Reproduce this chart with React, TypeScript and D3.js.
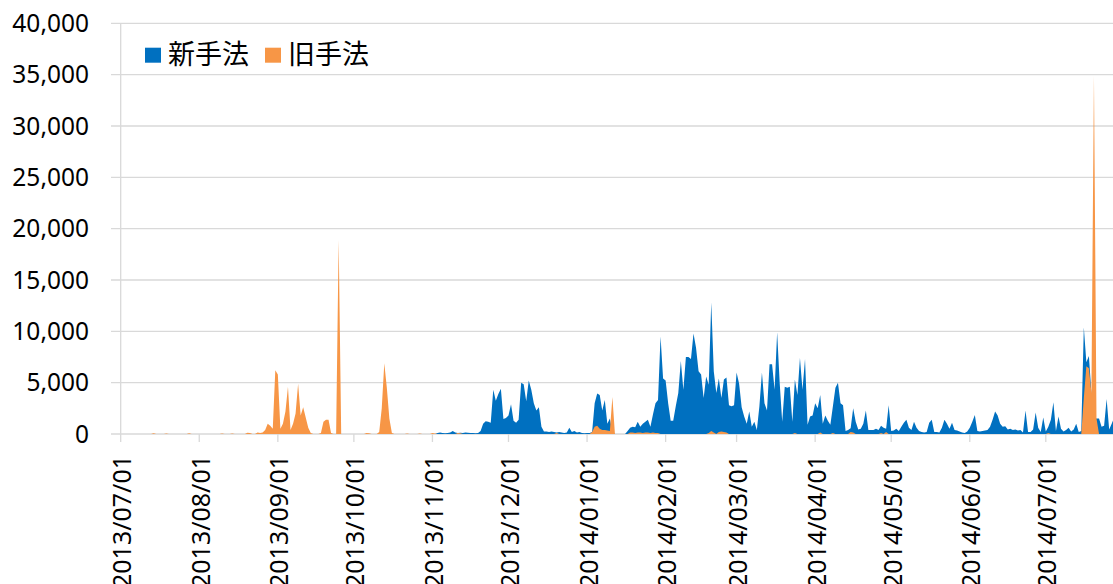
import React from "react";
import * as d3 from "d3";

// Daily counts from 2013/07/01 onward
const startDate = Date.UTC(2013, 6, 1);
const seriesNames = ["新手法", "旧手法"];
const seriesColors = ["#0070C0", "#F79646"];
const yTicks = [0, 5000, 10000, 15000, 20000, 25000, 30000, 35000, 40000];

// 新手法 (one value per day)
const newMethod = [
  0, 0, 0, 0, 0, 0, 0, 0, 0, 0,
  0, 0, 0, 0, 0, 0, 0, 0, 0, 0,
  0, 0, 0, 0, 0, 0, 0, 0, 0, 0,
  0, 0, 0, 0, 0, 0, 0, 0, 0, 0,
  0, 0, 0, 0, 0, 0, 0, 0, 0, 0,
  0, 0, 0, 0, 0, 0, 0, 0, 0, 0,
  0, 0, 0, 0, 0, 0, 0, 0, 0, 0,
  0, 0, 0, 0, 0, 0, 0, 0, 0, 0,
  0, 0, 0, 0, 0, 0, 0, 0, 0, 0,
  0, 0, 0, 0, 0, 0, 0, 0, 0, 0,
  0, 0, 0, 0, 0, 0, 0, 0, 0, 0,
  0, 0, 0, 0, 0, 0, 0, 0, 0, 0,
  0, 0, 0, 0, 0, 100, 150, 100, 80, 100,
  150, 300, 150, 100, 120, 100, 150, 120, 100, 100,
  80, 100, 300, 1000, 1250, 1200, 1100, 4300, 3250, 3900,
  4400, 1450, 1550, 1800, 2900, 1300, 1100, 1400, 5000, 4850,
  3200, 5200, 4300, 3000, 2300, 2600, 700, 250, 250, 200,
  250, 200, 150, 200, 150, 100, 150, 600, 200, 300,
  150, 200, 100, 80, 100, 100, 200, 3000, 3950, 3800,
  2300, 3300, 1000, 1500, 200, 0, 0, 0, 0, 0,
  300, 600, 700, 650, 1200, 700, 1000, 1200, 1400, 700,
  1900, 3000, 3300, 9500, 5400, 5200, 3000, 1300, 1300, 2700,
  4000, 7100, 4300, 7500, 7500, 7300, 9800, 8400, 6100, 5800,
  3500, 5600, 4800, 12800, 6100, 4000, 5400, 3500, 5300, 5500,
  2800, 2700, 2800, 6000, 4900, 2600, 1700, 1000, 2200, 700,
  1200, 400, 2700, 6000, 3000, 2300, 6800, 6800, 4300, 9900,
  5000, 1200, 4600, 4500, 4600, 1200, 5300, 3800, 7400, 4300,
  7300, 900, 1700, 1800, 3000, 2500, 3800, 1000, 1800, 1300,
  900, 2700, 4500, 5000, 3000, 2800, 300, 400, 550, 2500,
  1200, 450, 500, 1000, 2300, 400, 400, 400, 500, 400,
  800, 600, 500, 2800, 300, 350, 500, 300, 700, 1100,
  1400, 600, 400, 1200, 600, 300, 200, 150, 200, 1100,
  1400, 200, 200, 150, 600, 1400, 1000, 500, 1100, 400,
  350, 250, 150, 100, 250, 600, 1200, 1850, 300, 250,
  300, 350, 400, 700, 1400, 2200, 1800, 1000, 700, 750,
  450, 500, 400, 450, 350, 400, 150, 2300, 200, 200,
  450, 2100, 600, 200, 1600, 250, 700, 1400, 3100, 300,
  1700, 500, 250, 400, 600, 250, 450, 1000, 200, 300,
  10400, 7000, 7600, 4000, 1500, 1500, 1500, 700, 800, 3400,
  450, 1000, 1600,
];

// 旧手法 (one value per day)
const oldMethod = [
  0, 0, 0, 0, 0, 0, 0, 0, 0, 0,
  0, 0, 0, 80, 0, 0, 0, 0, 50, 0,
  0, 0, 0, 0, 0, 0, 0, 80, 0, 0,
  0, 0, 0, 0, 0, 0, 0, 0, 0, 0,
  60, 0, 0, 0, 50, 0, 0, 0, 0, 0,
  120, 100, 0, 0, 150, 100, 150, 400, 1000, 800,
  500, 6200, 5800, 500, 1000, 2200, 4600, 400, 1000, 2000,
  4900, 1800, 2600, 1600, 600, 100, 0, 0, 0, 100,
  1200, 1400, 1400, 100, 0, 0, 18900, 0, 0, 0,
  0, 0, 0, 0, 0, 0, 0, 100, 80, 0,
  0, 0, 200, 2500, 6900, 4500, 1500, 100, 0, 0,
  0, 0, 0, 50, 0, 0, 0, 0, 60, 0,
  0, 0, 0, 100, 50, 0, 0, 0, 0, 0,
  0, 0, 0, 100, 80, 0, 0, 0, 0, 0,
  0, 0, 0, 0, 0, 0, 0, 0, 0, 0,
  0, 0, 0, 0, 0, 0, 0, 0, 0, 0,
  0, 0, 0, 0, 0, 0, 0, 0, 0, 0,
  0, 0, 100, 0, 0, 0, 0, 0, 0, 0,
  0, 0, 0, 0, 0, 0, 200, 700, 800, 500,
  400, 400, 350, 300, 3600, 0, 0, 0, 0, 0,
  0, 150, 150, 100, 150, 150, 100, 150, 150, 100,
  150, 100, 100, 0, 0, 0, 0, 0, 0, 0,
  0, 0, 0, 0, 0, 0, 0, 0, 0, 0,
  0, 0, 100, 300, 150, 0, 200, 250, 200, 150,
  0, 0, 0, 0, 0, 0, 0, 0, 0, 0,
  0, 0, 0, 0, 0, 0, 0, 0, 0, 0,
  0, 0, 0, 0, 0, 0, 100, 0, 0, 0,
  0, 0, 0, 0, 0, 0, 150, 0, 0, 0,
  0, 100, 0, 0, 0, 0, 0, 0, 200, 150,
  0, 0, 0, 0, 0, 0, 0, 0, 0, 0,
  100, 0, 200, 0, 0, 0, 0, 0, 0, 0,
  0, 0, 0, 0, 0, 0, 0, 0, 0, 0,
  0, 0, 0, 0, 0, 0, 0, 0, 0, 0,
  0, 0, 0, 0, 0, 0, 0, 0, 0, 0,
  0, 0, 0, 0, 0, 0, 0, 0, 0, 0,
  0, 0, 0, 0, 0, 0, 0, 0, 0, 0,
  0, 0, 0, 0, 0, 0, 100, 0, 0, 0,
  0, 0, 0, 0, 0, 0, 0, 0, 0, 0,
  3500, 6600, 6400, 4000, 34900, 1500, 0, 0, 0, 0,
  0, 0, 0,
];

const W = 1113;
const H = 584;
const plotLeft = 120.7;
const plotRight = 1113;
const plotTop = 23.3;
const plotBottom = 434;
const DAY = 86400000;

const labelFont = "'Noto Sans', 'Open Sans', 'Liberation Sans', sans-serif";
const cjkFont = "'Noto Sans CJK JP', 'Noto Sans CJK SC', sans-serif";
const gridColor = "#d9d9d9";

export default function App() {
  const x = d3
    .scaleUtc()
    .domain([new Date(startDate), new Date(Date.UTC(2014, 6, 1))])
    .range([plotLeft, 1045.8]);
  const y = d3.scaleLinear().domain([0, 40000]).range([plotBottom, plotTop]);

  const dateOf = (i: number) => new Date(startDate + i * DAY);
  const area = d3
    .area<number>()
    .x((_, i) => x(dateOf(i)))
    .y0(y(0))
    .y1((d) => y(d))
    .curve(d3.curveLinear);

  const months = d3.utcMonth
    .range(new Date(startDate), new Date(Date.UTC(2014, 7, 1)))
    .filter((m) => x(m) <= plotRight);
  const fmtMonth = d3.utcFormat("%Y/%m/%d");
  const fmtValue = d3.format(",");

  const series = [newMethod, oldMethod];

  return (
    <div style={{ position: "absolute", left: 0, top: 0 }}>
      <svg width={W} height={H} style={{ display: "block", background: "#fff" }}>
        <defs>
          <clipPath id="plot-clip">
            <rect x={plotLeft} y={0} width={plotRight - plotLeft} height={plotBottom + 1} />
          </clipPath>
        </defs>

        {/* horizontal gridlines with left tick stubs */}
        {yTicks.map((t) => (
          <line
            key={`g${t}`}
            x1={111}
            x2={plotRight}
            y1={y(t)}
            y2={y(t)}
            stroke={gridColor}
            strokeWidth={1.3}
          />
        ))}

        {/* vertical axis line */}
        <line x1={plotLeft} x2={plotLeft} y1={plotTop} y2={plotBottom} stroke={gridColor} strokeWidth={1.3} />

        {/* month ticks */}
        {months.map((m) => (
          <line
            key={`t${m.getTime()}`}
            x1={x(m)}
            x2={x(m)}
            y1={plotBottom}
            y2={plotBottom + 8}
            stroke={gridColor}
            strokeWidth={1.3}
          />
        ))}

        {/* areas: 新手法 behind, 旧手法 in front */}
        <g clipPath="url(#plot-clip)">
          {series.map((s, k) => (
            <path key={`a${k}`} d={area(s) ?? ""} fill={seriesColors[k]} />
          ))}
        </g>

        {/* y tick labels */}
        {yTicks.map((t) => (
          <text
            key={`yl${t}`}
            x={89}
            y={y(t)}
            dy="0.35em"
            textAnchor="end"
            fontFamily={labelFont}
            fontSize={24.5}
            fill="#000"
          >
            {fmtValue(t)}
          </text>
        ))}

        {/* x tick labels, rotated */}
        {months.map((m) => (
          <text
            key={`xl${m.getTime()}`}
            transform={`translate(${x(m)},${455}) rotate(-90)`}
            dy="0.42em"
            textAnchor="end"
            fontFamily={labelFont}
            fontSize={25}
            fill="#000"
          >
            {fmtMonth(m)}
          </text>
        ))}

        {/* legend */}
        {seriesNames.map((name, k) => {
          const lx = k === 0 ? 145 : 265;
          return (
            <g key={`lg${k}`}>
              <rect x={lx} y={47.7} width={16} height={15} fill={seriesColors[k]} />
              <text x={lx + 23} y={64} fontFamily={cjkFont} fontSize={27} fill="#000">
                {name}
              </text>
            </g>
          );
        })}
      </svg>
    </div>
  );
}
